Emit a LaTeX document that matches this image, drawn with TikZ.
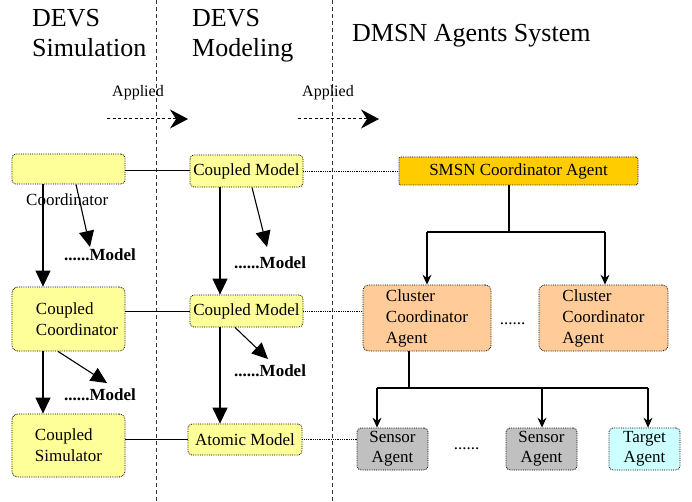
\documentclass[tikz,border=0pt]{standalone}
\usepackage{fontspec}
\setmainfont{Liberation Serif}
\usetikzlibrary{arrows.meta,calc}
\definecolor{ylw}{HTML}{FFFF99}
\definecolor{smsnc}{HTML}{FFCC00}
\definecolor{clc}{HTML}{FFCC99}
\definecolor{senc}{HTML}{C0C0C0}
\definecolor{tgc}{HTML}{CCFFFF}
\begin{document}
\begin{tikzpicture}[x=1pt,y=-1pt,
  box/.style={draw=black, densely dotted, line width=0.8pt, rounded corners=4pt, inner sep=0pt, align=center, font=\fontsize{17}{21}\selectfont},
  ybox/.style={box, fill=ylw},
  title/.style={anchor=base west, inner sep=0pt, font=\fontsize{26}{30}\selectfont},
  applab/.style={anchor=base west, inner sep=0pt, font=\fontsize{16}{18}\selectfont},
  modlab/.style={anchor=base west, inner sep=0pt, font=\fontsize{17}{20}\selectfont\bfseries},
  dotlab/.style={anchor=base, inner sep=0pt, font=\fontsize{17}{20}\selectfont},
  sep/.style={dash pattern=on 4pt off 3pt, line width=1pt, black!80},
  bigarr/.style={-{Triangle[length=16pt,width=15pt]}, line width=1.1pt},
  treearr/.style={-{Stealth[length=10pt,width=9pt,inset=3.5pt]}, line width=1.3pt},
  apparr/.style={dash pattern=on 3pt off 2.5pt, line width=1pt, -{Stealth[length=18pt,width=19pt,inset=6pt]}},
  link/.style={line width=1pt},
  dlink/.style={densely dotted, line width=0.8pt}
]
\useasboundingbox (0,0) rectangle (692,502);

% separators
\draw[sep] (156,0) -- (156,502);
\draw[sep] (332,0) -- (332,502);

% titles
\node[title] (t1a) at (32,27) {DEVS};
\node[title] (t1b) at (32,57) {Simulation};
\node[title] (t2a) at (192,27) {DEVS};
\node[title] (t2b) at (192,57) {Modeling};
\node[title] (t3) at (352,42) {DMSN Agents System};

% applied arrows
\node[applab] (ap1) at (112,97) {Applied};
\node[applab] (ap2) at (302,97) {Applied};
\coordinate (a1s) at (107,119); \coordinate (a1e) at (188,119);
\coordinate (a2s) at (298,119); \coordinate (a2e) at (379,119);
\draw[apparr] (a1s) -- (a1e);
\draw[apparr] (a2s) -- (a2e);

% left column
\node[ybox, minimum width=113pt, minimum height=30pt] (coord) at (68.5,169) {};
\node[anchor=base west, inner sep=0pt, font=\fontsize{17}{21}\selectfont] (coordt) at (26,206) {Coordinator};
\node[ybox, minimum width=113pt, minimum height=64pt, rounded corners=6pt, align=left] (cc) at (68.5,319) {\hspace*{17pt}Coupled\\\hspace*{17pt}Coordinator};
\node[ybox, minimum width=113pt, minimum height=63pt, rounded corners=6pt, align=left] (cs) at (68.5,445.5) {Coupled\\Simulator};

% middle column
\node[ybox, minimum width=113pt, minimum height=32pt] (cm1) at (246.5,171) {Coupled Model};
\node[ybox, minimum width=113pt, minimum height=32pt] (cm2) at (246.5,311) {Coupled Model};
\node[ybox, minimum width=114pt, minimum height=31pt] (am) at (245,439.5) {Atomic Model};

% right column
\node[box, fill=smsnc, minimum width=239pt, minimum height=28pt, rounded corners=2pt] (smsn) at (518.5,171) {SMSN Coordinator Agent};
\node[box, fill=clc, minimum width=128pt, minimum height=66pt, rounded corners=6pt, align=left] (cl1) at (427,318) {Cluster\\Coordinator\\Agent};
\node[box, fill=clc, minimum width=129pt, minimum height=66pt, rounded corners=6pt, align=left] (cl2) at (603.5,318) {Cluster\\Coordinator\\Agent};
\node[box, fill=senc, minimum width=71pt, minimum height=42pt, font=\fontsize{17}{20}\selectfont] (s1) at (392.5,449) {Sensor\\Agent};
\node[box, fill=senc, minimum width=71pt, minimum height=42pt, font=\fontsize{17}{20}\selectfont] (s2) at (541.5,449) {Sensor\\Agent};
\node[box, fill=tgc, minimum width=71pt, minimum height=42pt, font=\fontsize{17}{20}\selectfont] (tg) at (644.5,449) {Target\\Agent};
\node[dotlab] (d1) at (512.5,324) {......};
\node[dotlab] (d2) at (466.5,449) {......};

% model labels
\node[modlab] (m1) at (64,261) {......Model};
\node[modlab] (m2) at (234,268) {......Model};
\node[modlab] (m3) at (64,400) {......Model};
\node[modlab] (m4) at (234,376) {......Model};
\coordinate (m1tip) at (90,247);
\coordinate (m2tip) at (267,247);
\coordinate (m3tip) at (107,383);
\coordinate (m4tip) at (268,359);

% horizontal links
\draw[link] (coord.east |- cm1.west) -- (cm1.west);
\draw[link] (cc.east |- cm2.west) -- (cm2.west);
\draw[link] (cs.east |- am.west) -- (am.west);
\draw[dlink] (cm1.east) -- (cm1.east -| smsn.west);
\draw[dlink] (cm2.east) -- (cm2.east -| cl1.west);
\draw[dlink] (am.east) -- (am.east -| s1.west);

% left arrows
\draw[bigarr] ([xshift=-25.5pt]coord.south) -- ([xshift=-25.5pt]cc.north);
\draw[bigarr] ([xshift=-25.5pt]cc.south) -- ([xshift=-25.5pt]cs.north);
\draw[bigarr] ([xshift=7.5pt]coord.south) -- (m1tip);
\draw[bigarr] ([xshift=-10.5pt]cc.south) -- (m3tip);
\draw[bigarr] ([xshift=-26.5pt]cm1.south) -- ([xshift=-26.5pt]cm2.north);
\draw[bigarr] ([xshift=-26.5pt]cm2.south) -- ([xshift=-26.5pt]cm2.south |- am.north);
\draw[bigarr] ([xshift=5.5pt]cm1.south) -- (m2tip);
\draw[bigarr] ([xshift=-11.5pt]cm2.south) -- (m4tip);

% tree
\coordinate (j1) at (509,232); \coordinate (j1l) at (427,232); \coordinate (j1r) at (605,232);
\draw[line width=1.3pt] (j1 |- smsn.south) -- (j1);
\draw[line width=2pt] (j1l) -- (j1r);
\draw[treearr] (j1l) -- (j1l |- cl1.north);
\draw[treearr] (j1r) -- (j1r |- cl2.north);
\coordinate (j2) at (409,388); \coordinate (j2l) at (377,388); \coordinate (j2r) at (648,388); \coordinate (j2m) at (542,388);
\draw[line width=1.3pt] (j2 |- cl1.south) -- (j2);
\draw[line width=2pt] (j2l) -- (j2r);
\draw[treearr] (j2l) -- (j2l |- s1.north);
\draw[treearr] (j2m) -- (j2m |- s2.north);
\draw[treearr] (j2r) -- (j2r |- tg.north);
\end{tikzpicture}
\end{document}
